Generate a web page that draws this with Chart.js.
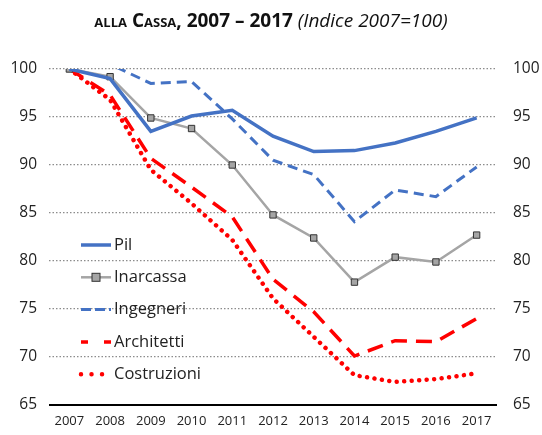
<!DOCTYPE html>
<html>
<head>
<meta charset="utf-8">
<script src="https://cdn.jsdelivr.net/npm/chart.js@4/dist/chart.umd.min.js"></script>
<style>
  html, body { margin: 0; padding: 0; background: #fff; }
  #wrap { position: relative; width: 542px; height: 435px; }
  #title { position: absolute; left: 0; top: 7px; width: 542px; text-align: center;
    font-family: "Open Sans", sans-serif; font-size: 19px; color: #111; white-space: nowrap; }
  #title b { font-weight: 700; }
  #title .sc { font-variant: small-caps; font-weight: 700; }
  #title i { font-weight: 400; }
  canvas { position: absolute; left: 0; top: 0; }
</style>
</head>
<body>
<div id="wrap">
  <canvas id="c" width="542" height="435"></canvas>
  <div id="title"><span class="sc">alla Cassa,</span> <b>2007 – 2017</b> <i>(Indice 2007=100)</i></div>
</div>
<script>
const categories = ["2007","2008","2009","2010","2011","2012","2013","2014","2015","2016","2017"];
const pil         = [100, 99.0, 93.5, 95.1, 95.7, 93.0, 91.4, 91.5, 92.3, 93.5, 94.9];
const inarcassa   = [100, 99.2, 94.9, 93.8, 90.0, 84.8, 82.4, 77.8, 80.4, 79.9, 82.7];
const ingegneri   = [100, 100.5, 98.5, 98.7, 94.8, 90.5, 89.0, 84.1, 87.4, 86.7, 89.8];
const architetti  = [100, 97.3, 90.7, 87.7, 84.6, 78.1, 74.7, 70.1, 71.7, 71.6, 74.0];
const costruzioni = [100, 96.8, 89.5, 86.0, 82.2, 76.1, 72.1, 68.1, 67.4, 67.7, 68.3];
const seriesNames = ["Pil","Inarcassa","Ingegneri","Architetti","Costruzioni"];
const yTicks = [65, 70, 75, 80, 85, 90, 95, 100];

const FONT = '"Open Sans", sans-serif';
const BLUE = '#4472C4', GRAY = '#A5A5A5', RED = '#FF0000';

const legendPlugin = {
  id: 'inlineLegend',
  afterDatasetsDraw(chart) {
    const ctx = chart.ctx;
    const x0 = 81, x1 = 111;
    chart.data.datasets.forEach((ds, i) => {
      const y = 245 + i * 32.3;
      ctx.save();
      ctx.strokeStyle = ds.borderColor;
      ctx.lineWidth = ds.borderWidth;
      ctx.lineCap = ds.borderCapStyle || 'butt';
      ctx.setLineDash(ds.legendDash || []);
      ctx.beginPath();
      ctx.moveTo(x0, y); ctx.lineTo(x1, y);
      ctx.stroke();
      ctx.setLineDash([]);
      if (ds.pointStyle === 'rect' && ds.pointRadius > 0) {
        ctx.fillStyle = ds.pointBackgroundColor;
        ctx.strokeStyle = ds.pointBorderColor;
        ctx.lineWidth = 1;
        ctx.fillRect(92, y - 4, 8, 8);
        ctx.strokeRect(92, y - 4, 8, 8);
      }
      ctx.fillStyle = '#222';
      ctx.font = '16.5px ' + FONT;
      ctx.textBaseline = 'middle';
      ctx.textAlign = 'left';
      ctx.fillText(ds.label, 114, y);
      ctx.restore();
    });
  }
};

const axisLinePlugin = {
  id: 'axisLine',
  afterDraw(chart) {
    const ctx = chart.ctx, a = chart.chartArea;
    const y = chart.scales.y.getPixelForValue(65);
    ctx.save();
    ctx.strokeStyle = '#000';
    ctx.lineWidth = 2;
    ctx.beginPath();
    ctx.moveTo(a.left, y); ctx.lineTo(a.right, y);
    ctx.stroke();
    ctx.restore();
  }
};

new Chart(document.getElementById('c'), {
  type: 'line',
  data: {
    labels: categories,
    datasets: [
      { label: seriesNames[0], data: pil, borderColor: BLUE, borderWidth: 3.5, pointRadius: 0, tension: 0 },
      { label: seriesNames[1], data: inarcassa, borderColor: GRAY, borderWidth: 2.5, pointStyle: 'rect',
        pointRadius: 4.5, pointBackgroundColor: GRAY, pointBorderColor: '#333', pointBorderWidth: 1, tension: 0 },
      { label: seriesNames[2], data: ingegneri, borderColor: BLUE, borderWidth: 3, borderDash: [10, 6],
        legendDash: [10, 4], pointRadius: 0, tension: 0 },
      { label: seriesNames[3], data: architetti, borderColor: RED, borderWidth: 3.5, borderDash: [16, 9],
        legendDash: [7, 16], pointRadius: 0, tension: 0 },
      { label: seriesNames[4], data: costruzioni, borderColor: RED, borderWidth: 4.5, borderDash: [0.01, 7.5],
        borderCapStyle: 'round', legendDash: [0.01, 10.5], pointRadius: 0, tension: 0 }
    ]
  },
  options: {
    responsive: false,
    animation: false,
    layout: { padding: { top: 69, bottom: 0, left: 0, right: 0 } },
    plugins: { legend: { display: false }, tooltip: { enabled: false }, title: { display: false } },
    scales: {
      x: {
        offset: true,
        grid: { display: false, drawTicks: false },
        border: { display: false },
        ticks: { color: '#222', font: { family: FONT, size: 13 }, padding: 8, maxRotation: 0, autoSkip: false },
        afterFit(s) { s.height = 30; }
      },
      y: {
        position: 'left',
        min: 65, max: 100,
        afterBuildTicks(s) { s.ticks = yTicks.map(v => ({ value: v })); },
        grid: {
          color: ctx => ctx.tick && ctx.tick.value === 65 ? 'rgba(0,0,0,0)' : '#8c8c8c',
          lineWidth: 1.3, drawTicks: false
        },
        border: { display: false, dash: [1.5, 2] },
        ticks: { color: '#222', font: { family: FONT, size: 15.5 }, padding: 12 },
        afterFit(s) { s.width = 49; }
      },
      y2: {
        position: 'right',
        min: 65, max: 100,
        afterBuildTicks(s) { s.ticks = yTicks.map(v => ({ value: v })); },
        grid: { display: false, drawTicks: false },
        border: { display: false },
        ticks: { color: '#222', font: { family: FONT, size: 15.5 }, padding: 16 },
        afterFit(s) { s.width = 45; }
      }
    }
  },
  plugins: [legendPlugin, axisLinePlugin]
});
</script>
</body>
</html>
